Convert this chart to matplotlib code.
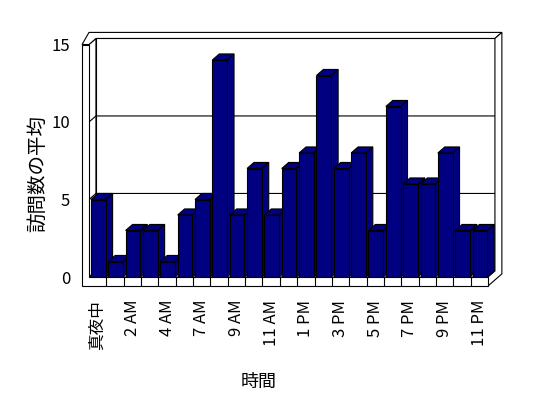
import matplotlib
matplotlib.use('Agg')
import matplotlib.pyplot as plt
from matplotlib.patches import Polygon

plt.rcParams['font.family'] = ['Noto Sans CJK JP', 'DejaVu Sans']

# Data (6 AM has no entry)
hours = ["真夜中", "1 AM", "2 AM", "3 AM", "4 AM", "5 AM", "7 AM", "8 AM",
         "9 AM", "10 AM", "11 AM", "正午", "1 PM", "2 PM", "3 PM", "4 PM",
         "5 PM", "6 PM", "7 PM", "8 PM", "9 PM", "10 PM", "11 PM"]
visits = [5, 1, 3, 3, 1, 4, 5, 14, 4, 7, 4, 7, 8, 13, 7, 8, 3, 11, 6, 6, 8, 3, 3]
y_ticks = [0, 5, 10, 15]
x_title = "時間"
y_title = "訪問数の平均"

NAVY = '#000080'
# 3d look, all in data units (categories / values)
DX, DY = 0.40, 0.39      # depth offset of one layer
WALL = 0.40              # left wall thickness
FLOOR = 0.58             # floor thickness
BAR_OFF, BAR_W = 0.11, 0.85
LW = 0.8


def face(ax, pts, color='white', z=1):
    ax.add_patch(Polygon(pts, closed=True, facecolor=color, edgecolor='black',
                         linewidth=LW, joinstyle='miter', clip_on=False, zorder=z))


def line(ax, xs, ys, z=2):
    ax.plot(xs, ys, color='black', linewidth=LW, clip_on=False, zorder=z,
            solid_capstyle='butt')


def draw_walls(ax, n, top):
    # back wall, inner face
    face(ax, [(DX, DY), (n + DX, DY), (n + DX, top + DY), (DX, top + DY)])
    # left wall, inner face
    face(ax, [(0, 0), (DX, DY), (DX, top + DY), (0, top)])
    # floor top
    face(ax, [(0, 0), (n, 0), (n + DX, DY), (DX, DY)])
    # top edge of the walls
    face(ax, [(-WALL, top), (0, top), (DX, top + DY), (n + DX, top + DY),
              (n + 2 * DX, top + 2 * DY), (-WALL + DX, top + 2 * DY)])
    # right end of back wall + floor
    face(ax, [(n, -FLOOR), (n, 0), (n + DX, DY), (n + DX, top + DY),
              (n + 2 * DX, top + 2 * DY), (n + 2 * DX, -FLOOR + 2 * DY)])
    # gridlines on walls
    for t in y_ticks[1:-1]:
        line(ax, [0, DX, n + DX], [t, t + DY, t + DY])
        line(ax, [-WALL, 0], [t, t], z=4)


def draw_bar(ax, i, v):
    x0 = i + BAR_OFF
    x1 = x0 + BAR_W
    face(ax, [(x1, 0), (x1 + DX, DY), (x1 + DX, v + DY), (x1, v)], NAVY, 3)
    face(ax, [(x0, v), (x1, v), (x1 + DX, v + DY), (x0 + DX, v + DY)], NAVY, 3)
    face(ax, [(x0, 0), (x1, 0), (x1, v), (x0, v)], NAVY, 3)


fig = plt.figure(figsize=(5.48, 3.98), dpi=100)
ax = fig.add_axes([89 / 548, 121 / 398, 399 / 548, 232.5 / 398])
n = len(visits)
top = y_ticks[-1]
ax.set_xlim(0, n)
ax.set_ylim(0, top)
ax.patch.set_visible(False)
for s in ax.spines.values():
    s.set_visible(False)

draw_walls(ax, n, top)
for i, v in enumerate(visits):
    draw_bar(ax, i, v)

# front face of left wall and floor (one L-shaped plate)
face(ax, [(-WALL, -FLOOR), (-WALL, top), (0, top), (0, 0), (n, 0), (n, -FLOOR)], z=4)
for i in range(1, n):
    line(ax, [i, i], [-FLOOR, 0], z=4)

# ticks
ax.set_yticks(y_ticks)
ax.set_yticklabels([str(t) for t in y_ticks], fontsize=12)
ax.set_xticks([i + 0.5 for i in range(0, n, 2)])
ax.set_xticklabels(hours[::2], rotation=90, fontsize=12)
ax.tick_params(axis='y', length=0, pad=13.5)
ax.tick_params(axis='x', length=0, pad=16.5)

ax.set_xlabel(x_title, fontsize=13, va='center')
ax.xaxis.set_label_coords(0.426, -0.452)
ax.set_ylabel(y_title, fontsize=14, va='center')
ax.yaxis.set_label_coords(-0.129, 0.445)

plt.savefig('out.png', dpi=100)
plt.close()
